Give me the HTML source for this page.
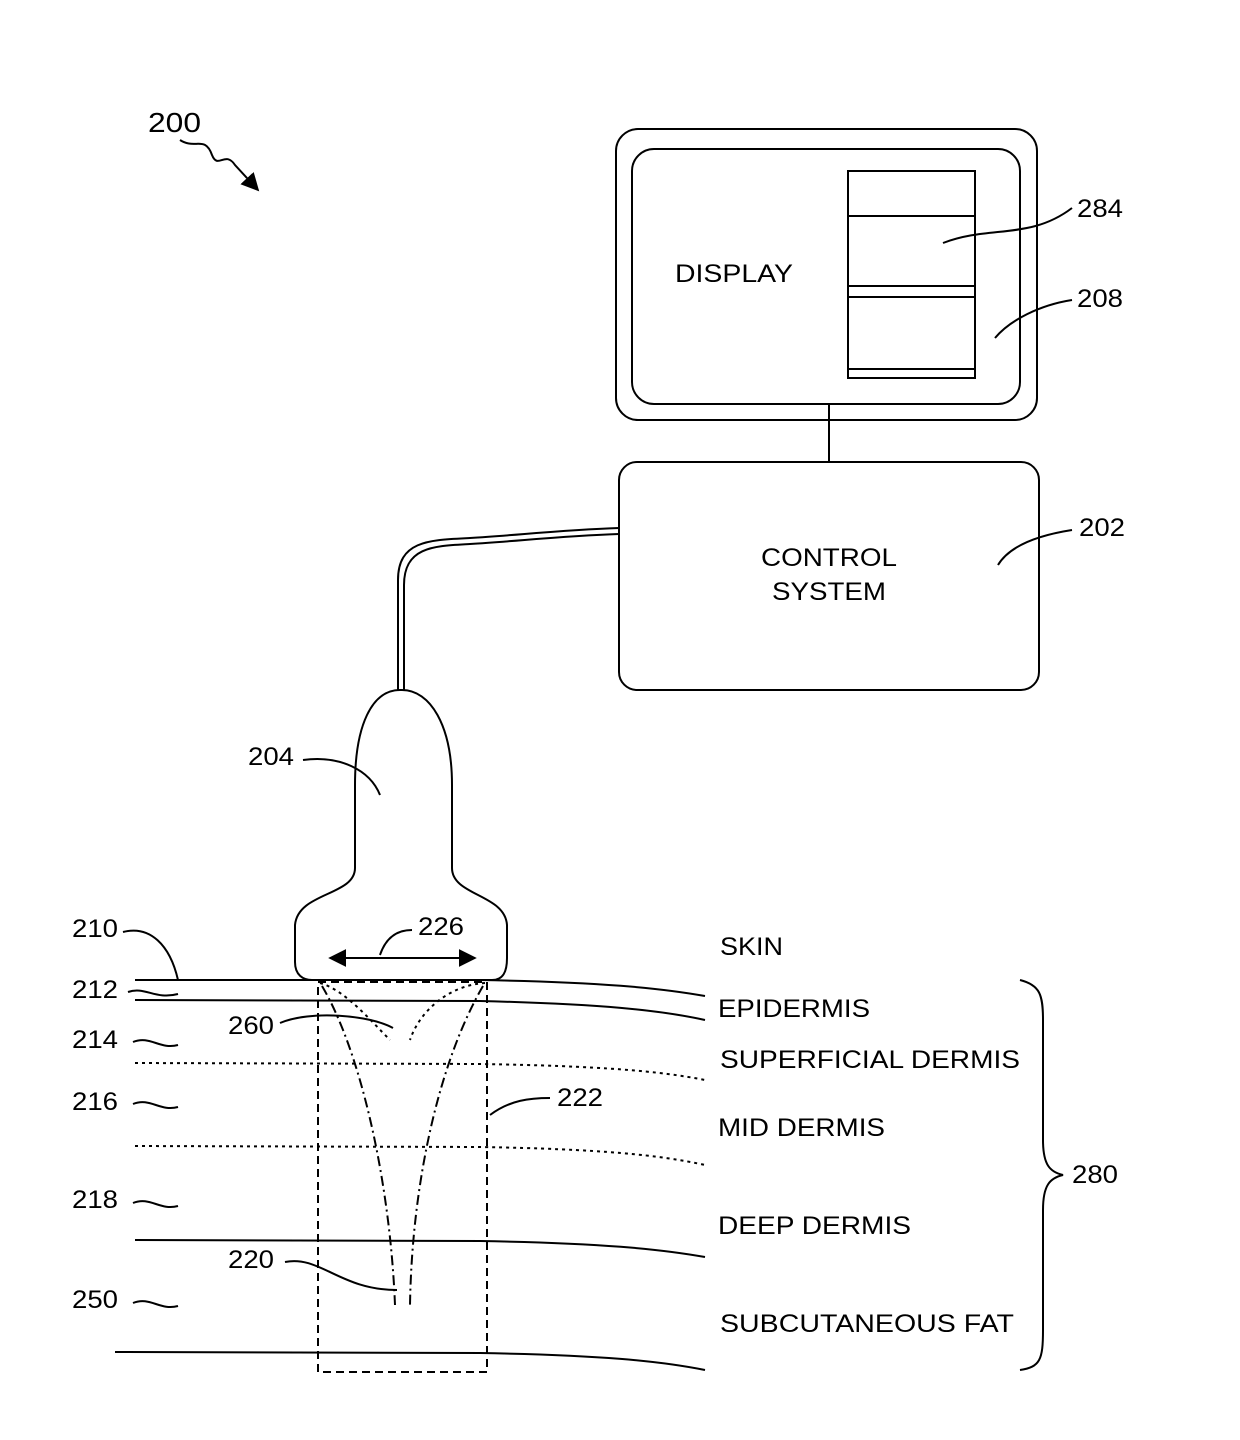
<!DOCTYPE html>
<html><head><meta charset="utf-8"><style>
html,body{margin:0;padding:0;background:#fff}
svg{display:block}
text{font-family:"Liberation Sans",sans-serif;fill:#000}
</style></head><body>
<svg width="1240" height="1440" viewBox="0 0 1240 1440" xmlns="http://www.w3.org/2000/svg">
<defs><marker id="ah" viewBox="0 0 10 10" refX="9" refY="5" markerWidth="9" markerHeight="9" orient="auto-start-reverse"><path d="M0,0 L10,5 L0,10 Z" fill="#000"/></marker></defs>
<g fill="none" stroke="#000" stroke-width="2">
<path d="M180,140 C195,150 205,135 212,155 C218,170 225,150 235,165 L258,190" marker-end="url(#ah)"/>
<rect x="616" y="129" width="421" height="291" rx="22"/>
<rect x="632" y="149" width="388" height="255" rx="22"/>
<rect x="848" y="171" width="127" height="207"/>
<line x1="848" y1="216" x2="975" y2="216"/>
<line x1="848" y1="286" x2="975" y2="286"/>
<line x1="848" y1="297" x2="975" y2="297"/>
<line x1="848" y1="369" x2="975" y2="369"/>
<path d="M943,243 C990,225 1030,240 1072,208"/>
<path d="M995,338 C1010,320 1040,305 1072,300"/>
<line x1="829" y1="404" x2="829" y2="462"/>
<rect x="619" y="462" width="420" height="228" rx="18"/>
<path d="M998,565 C1010,545 1040,535 1072,530"/>
<path d="M619,528 C560,530 520,535 470,538 C430,540 398,540 398,580 L398,690"/>
<path d="M619,534 C560,536 520,541 470,544 C435,546 404,546 404,585 L404,690"/>
<path d="M400,690 C372,690 355,725 355,785 L355,868 C355,896 298,892 295,925 L295,962 C295,975 303,980 312,980 L492,980 C503,980 507,972 507,958 L507,925 C505,894 452,896 452,868 L452,785 C452,725 430,690 402,690 Z"/>
<path d="M303,760 C340,755 370,770 380,795"/>
<line x1="330" y1="958" x2="475" y2="958" marker-start="url(#ah)" marker-end="url(#ah)"/>
<path d="M380,955 C385,940 395,930 412,930"/>
<path d="M135,980 L480,980 C600,982 660,988 705,996"/>
<path d="M135,1000 L480,1001 C600,1004 660,1010 705,1020"/>
<path d="M135,1063 L480,1064 C600,1066 660,1071 705,1080" stroke-dasharray="3,4"/>
<path d="M135,1146 L480,1147 C600,1149 660,1155 705,1165" stroke-dasharray="3,4"/>
<path d="M135,1240 L480,1241 C600,1243 660,1249 705,1257"/>
<path d="M115,1352 L480,1353 C600,1355 660,1361 705,1370"/>
<path d="M123,932 C150,925 170,945 178,980"/>
<path d="M128,992 C145,986 155,1000 178,994"/>
<path d="M133,1042 C150,1035 160,1050 178,1045"/>
<path d="M133,1104 C150,1097 160,1112 178,1107"/>
<path d="M133,1203 C150,1196 160,1211 178,1206"/>
<path d="M133,1303 C150,1296 160,1311 178,1306"/>
<rect x="318" y="982" width="169" height="390" stroke-dasharray="8,5"/>
<path d="M490,1115 C510,1100 530,1098 550,1098"/>
<path d="M320,983 C345,990 370,1020 390,1040" stroke-dasharray="3,4"/>
<path d="M485,983 C450,985 420,1010 410,1040" stroke-dasharray="3,4"/>
<path d="M322,986 C360,1050 390,1180 395,1305" stroke-dasharray="10,4,2,4"/>
<path d="M483,986 C440,1060 412,1180 410,1305" stroke-dasharray="10,4,2,4"/>
<path d="M280,1023 C310,1010 370,1015 393,1028"/>
<path d="M285,1262 C320,1255 340,1290 397,1290"/>
<path d="M1020,980 C1040,985 1043,995 1043,1020 L1043,1140 C1043,1165 1050,1172 1063,1175 C1050,1178 1043,1185 1043,1210 L1043,1330 C1043,1360 1040,1367 1020,1370"/>
</g>
<g font-size="25">
<text x="148" y="132" font-size="28" textLength="53" lengthAdjust="spacingAndGlyphs">200</text>
<text x="675" y="282" textLength="118" lengthAdjust="spacingAndGlyphs">DISPLAY</text>
<text x="1077" y="217" textLength="46" lengthAdjust="spacingAndGlyphs">284</text>
<text x="1077" y="307" textLength="46" lengthAdjust="spacingAndGlyphs">208</text>
<text x="761" y="566" textLength="136" lengthAdjust="spacingAndGlyphs">CONTROL</text>
<text x="772" y="600" textLength="114" lengthAdjust="spacingAndGlyphs">SYSTEM</text>
<text x="1079" y="536" textLength="46" lengthAdjust="spacingAndGlyphs">202</text>
<text x="248" y="765" textLength="46" lengthAdjust="spacingAndGlyphs">204</text>
<text x="418" y="935" textLength="46" lengthAdjust="spacingAndGlyphs">226</text>
<text x="72" y="937" textLength="46" lengthAdjust="spacingAndGlyphs">210</text>
<text x="72" y="998" textLength="46" lengthAdjust="spacingAndGlyphs">212</text>
<text x="72" y="1048" textLength="46" lengthAdjust="spacingAndGlyphs">214</text>
<text x="72" y="1110" textLength="46" lengthAdjust="spacingAndGlyphs">216</text>
<text x="72" y="1208" textLength="46" lengthAdjust="spacingAndGlyphs">218</text>
<text x="72" y="1308" textLength="46" lengthAdjust="spacingAndGlyphs">250</text>
<text x="228" y="1034" textLength="46" lengthAdjust="spacingAndGlyphs">260</text>
<text x="228" y="1268" textLength="46" lengthAdjust="spacingAndGlyphs">220</text>
<text x="557" y="1106" textLength="46" lengthAdjust="spacingAndGlyphs">222</text>
<text x="1072" y="1183" textLength="46" lengthAdjust="spacingAndGlyphs">280</text>
<text x="720" y="955" textLength="63" lengthAdjust="spacingAndGlyphs">SKIN</text>
<text x="718" y="1017" textLength="152" lengthAdjust="spacingAndGlyphs">EPIDERMIS</text>
<text x="720" y="1068" textLength="300" lengthAdjust="spacingAndGlyphs">SUPERFICIAL DERMIS</text>
<text x="718" y="1136" textLength="167" lengthAdjust="spacingAndGlyphs">MID DERMIS</text>
<text x="718" y="1234" textLength="193" lengthAdjust="spacingAndGlyphs">DEEP DERMIS</text>
<text x="720" y="1332" textLength="294" lengthAdjust="spacingAndGlyphs">SUBCUTANEOUS FAT</text>
</g>
</svg>
</body></html>
